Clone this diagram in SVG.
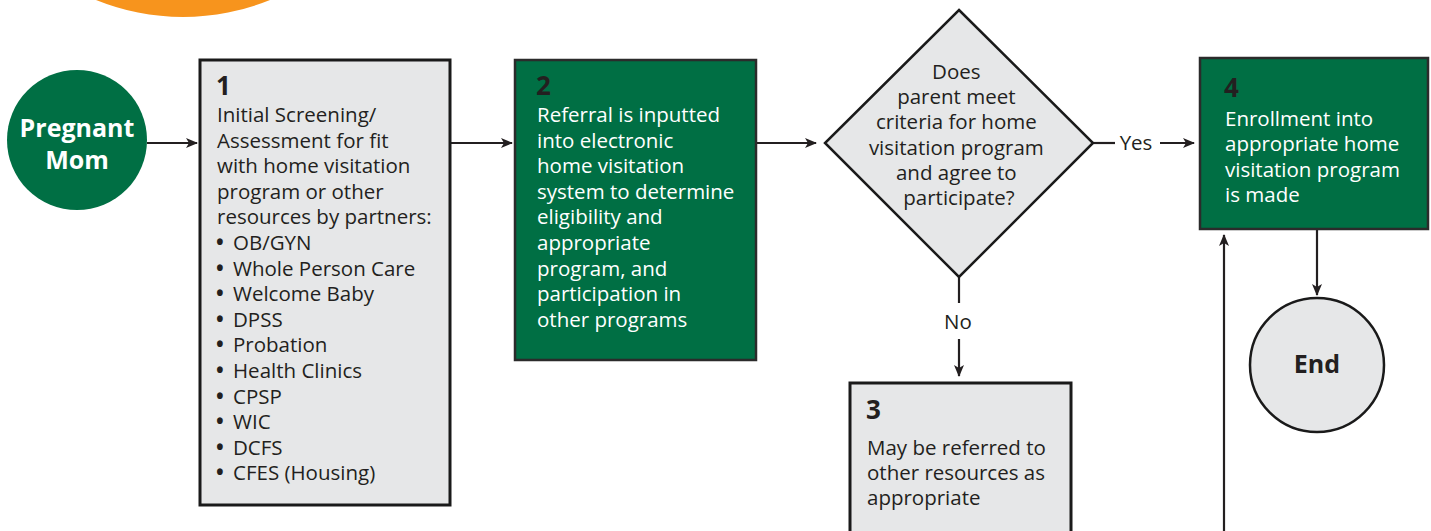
<svg xmlns="http://www.w3.org/2000/svg" width="1431" height="531" viewBox="0 0 1431 531">
<defs>
<style>
.t{font-family:"Open Sans","Noto Sans","Liberation Sans",sans-serif;font-size:20.5px;fill:#231f20}
.w{fill:#ffffff}
.bu{font-weight:bold}
.n{font-family:"Open Sans","Noto Sans","Liberation Sans",sans-serif;font-size:26px;font-weight:bold;fill:#231f20}
.b{font-family:"Open Sans","Noto Sans","Liberation Sans",sans-serif;font-size:25px;font-weight:bold;text-anchor:middle}
.grey{fill:#e6e7e8;stroke:#1a1a1a;stroke-width:3}
.green{fill:#006f44;stroke:#2b2b2b;stroke-width:2.5}
.c{stroke:#231f20;stroke-width:2.2;fill:none}
</style>
<marker id="ah" viewBox="0 0 12 10" refX="11" refY="5" markerWidth="12" markerHeight="10" markerUnits="userSpaceOnUse" orient="auto">
<path d="M0,0 L12,5 L0,10 L3,5 Z" fill="#231f20"/>
</marker>
</defs>
<circle cx="183" cy="-214" r="231" fill="#f7941d"/>
<g id="connectors">
<line class="c" x1="147" y1="143" x2="197" y2="143" marker-end="url(#ah)"/>
<line class="c" x1="451" y1="143" x2="512" y2="143" marker-end="url(#ah)"/>
<line class="c" x1="757" y1="143" x2="816" y2="143" marker-end="url(#ah)"/>
<line class="c" x1="1093" y1="143" x2="1115" y2="143"/>
<text class="t" x="1136" y="150" text-anchor="middle">Yes</text>
<line class="c" x1="1160" y1="143" x2="1194" y2="143" marker-end="url(#ah)"/>
<line class="c" x1="959" y1="277" x2="959" y2="303"/>
<text class="t" x="958" y="329" text-anchor="middle">No</text>
<line class="c" x1="959" y1="339" x2="959" y2="376" marker-end="url(#ah)"/>
<line class="c" x1="1317" y1="230" x2="1317" y2="295" marker-end="url(#ah)"/>
<line class="c" x1="1224" y1="540" x2="1224" y2="235" marker-end="url(#ah)"/>
</g>
<g id="start">
<circle cx="77" cy="140" r="70" fill="#006f44"/>
<text class="b w" x="77" y="137">Pregnant</text>
<text class="b w" x="77" y="169">Mom</text>
</g>
<g id="step1">
<rect class="grey" x="200" y="60" width="250" height="445"/>
<text class="n" x="216" y="95">1</text>
<text class="t" x="217" y="122">
<tspan x="217" dy="0">Initial Screening/</tspan>
<tspan x="217" dy="25.6">Assessment for fit</tspan>
<tspan x="217" dy="25.6">with home visitation</tspan>
<tspan x="217" dy="25.6">program or other</tspan>
<tspan x="217" dy="25.6">resources by partners:</tspan>
</text>
<text class="t" x="216" y="250">
<tspan x="216" dy="0" class="bu">•</tspan><tspan x="233">OB/GYN</tspan>
<tspan x="216" dy="25.6" class="bu">•</tspan><tspan x="233">Whole Person Care</tspan>
<tspan x="216" dy="25.6" class="bu">•</tspan><tspan x="233">Welcome Baby</tspan>
<tspan x="216" dy="25.6" class="bu">•</tspan><tspan x="233">DPSS</tspan>
<tspan x="216" dy="25.6" class="bu">•</tspan><tspan x="233">Probation</tspan>
<tspan x="216" dy="25.6" class="bu">•</tspan><tspan x="233">Health Clinics</tspan>
<tspan x="216" dy="25.6" class="bu">•</tspan><tspan x="233">CPSP</tspan>
<tspan x="216" dy="25.6" class="bu">•</tspan><tspan x="233">WIC</tspan>
<tspan x="216" dy="25.6" class="bu">•</tspan><tspan x="233">DCFS</tspan>
<tspan x="216" dy="25.6" class="bu">•</tspan><tspan x="233">CFES (Housing)</tspan>
</text>
</g>
<g id="step2">
<rect class="green" x="515" y="60" width="241" height="300"/>
<text class="n w" x="536" y="95">2</text>
<text class="t w" x="537" y="122">
<tspan x="537" dy="0">Referral is inputted</tspan>
<tspan x="537" dy="25.6">into electronic</tspan>
<tspan x="537" dy="25.6">home visitation</tspan>
<tspan x="537" dy="25.6">system to determine</tspan>
<tspan x="537" dy="25.6">eligibility and</tspan>
<tspan x="537" dy="25.6">appropriate</tspan>
<tspan x="537" dy="25.6">program, and</tspan>
<tspan x="537" dy="25.6">participation in</tspan>
<tspan x="537" dy="25.6">other programs</tspan>
</text>
</g>
<g id="decision">
<polygon class="grey" points="959,10 1093,143 959,277 825,143" style="stroke-width:2.5"/>
<text class="t" x="959" y="79" text-anchor="middle">
<tspan x="959" dy="0">Does</tspan>
<tspan x="959" dy="25.2">parent meet</tspan>
<tspan x="959" dy="25.2">criteria for home</tspan>
<tspan x="959" dy="25.2">visitation program</tspan>
<tspan x="959" dy="25.2">and agree to</tspan>
<tspan x="959" dy="25.2">participate?</tspan>
</text>
</g>
<g id="step3">
<rect class="grey" x="850" y="383" width="221" height="170"/>
<text class="n" x="866" y="419">3</text>
<text class="t" x="867" y="455">
<tspan x="867" dy="0">May be referred to</tspan>
<tspan x="867" dy="25.2">other resources as</tspan>
<tspan x="867" dy="25.2">appropriate</tspan>
</text>
</g>
<g id="step4">
<rect class="green" x="1200" y="58" width="228" height="171"/>
<text class="n w" x="1224" y="97">4</text>
<text class="t w" x="1225" y="126">
<tspan x="1225" dy="0">Enrollment into</tspan>
<tspan x="1225" dy="25.3">appropriate home</tspan>
<tspan x="1225" dy="25.3">visitation program</tspan>
<tspan x="1225" dy="25.3">is made</tspan>
</text>
</g>
<g id="end">
<circle cx="1317" cy="365" r="67" fill="#e6e7e8" stroke="#1a1a1a" stroke-width="2.5"/>
<text class="b" x="1317" y="373" fill="#231f20">End</text>
</g>
</svg>
